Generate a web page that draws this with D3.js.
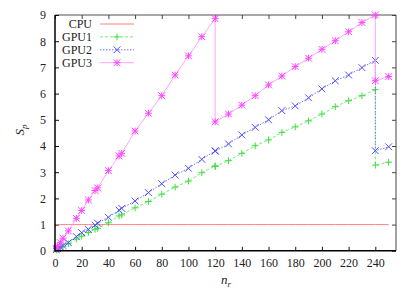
<!DOCTYPE html>
<html>
<head>
<meta charset="utf-8">
<script src="https://cdn.jsdelivr.net/npm/d3@7"></script>
<style>
html,body{margin:0;padding:0;background:#fff;}
svg{display:block;}
text{font-family:"Liberation Serif","Times New Roman",serif;fill:#222;}
</style>
</head>
<body>
<svg id="chart" width="415" height="291"></svg>
<script>
// ---- data ----
const nr = [1, 2, 4, 6, 10, 16, 20, 25, 30, 32, 40, 48, 50, 60, 70, 80, 90, 100, 110, 120, 120,
            130, 140, 150, 160, 170, 180, 190, 200, 210, 220, 230, 240, 240, 250];
const cpu  = nr.map(() => 1);
const gpu1 = [0.03, 0.06, 0.12, 0.17, 0.27, 0.45, 0.56, 0.70, 0.82, 0.86, 1.07, 1.33, 1.37, 1.64, 1.88, 2.16, 2.43, 2.66, 2.98, 3.24, 3.22,
              3.44, 3.72, 4.01, 4.23, 4.52, 4.73, 4.96, 5.22, 5.50, 5.73, 5.92, 6.15, 3.27, 3.38];
const gpu2 = [0.04, 0.08, 0.14, 0.20, 0.31, 0.54, 0.69, 0.82, 0.98, 1.05, 1.28, 1.55, 1.62, 1.90, 2.22, 2.56, 2.89, 3.15, 3.49, 3.82, 3.80,
              4.08, 4.42, 4.71, 5.00, 5.35, 5.53, 5.84, 6.18, 6.49, 6.71, 6.99, 7.27, 3.82, 3.97];
const gpu3 = [0.09, 0.16, 0.31, 0.48, 0.76, 1.24, 1.54, 1.94, 2.30, 2.40, 3.06, 3.62, 3.72, 4.57, 5.25, 5.92, 6.71, 7.44, 8.17, 8.86, 4.92,
              5.22, 5.56, 5.92, 6.33, 6.67, 7.03, 7.35, 7.69, 8.02, 8.36, 8.71, 9.00, 6.49, 6.65];
const xTicks = [0, 20, 40, 60, 80, 100, 120, 140, 160, 180, 200, 220, 240];
const yTicks = [0, 1, 2, 3, 4, 5, 6, 7, 8, 9];
const seriesNames = ["CPU", "GPU1", "GPU2", "GPU3"];

// ---- layout ----
const svg = d3.select("#chart");
const L = 55, R = 396, T = 15, B = 250.8;
const x = d3.scaleLinear().domain([0, 255.5]).range([L, R]);
const y = d3.scaleLinear().domain([0, 9]).range([B, T]);

const series = [
  {name: "CPU",  vals: cpu,  line: "#ff8080", dash: null,      lw: 1.0, marker: null, mc: null},
  {name: "GPU1", vals: gpu1, line: "#70ee70", dash: "3,2",     lw: 1.0, marker: "plus", mc: "#40dd40"},
  {name: "GPU2", vals: gpu2, line: "#7373ff", dash: "1.5,1.5", lw: 1.0, marker: "cross", mc: "#5050ff"},
  {name: "GPU3", vals: gpu3, line: "#ff99ff", dash: null,      lw: 0.9, marker: "star", mc: "#ff44ff"}
];

function markerPath(type, s) {
  const p = d3.path();
  if (type === "plus" || type === "star") {
    p.moveTo(-s, 0); p.lineTo(s, 0);
    p.moveTo(0, -s); p.lineTo(0, s);
  }
  if (type === "cross" || type === "star") {
    p.moveTo(-s, -s); p.lineTo(s, s);
    p.moveTo(-s, s); p.lineTo(s, -s);
  }
  return p.toString();
}

// frame: top & right grey, left & bottom black
svg.append("line").attr("x1", L).attr("x2", R).attr("y1", T).attr("y2", T)
  .attr("stroke", "#8a8a8a").attr("stroke-width", 1.6);
svg.append("line").attr("x1", R).attr("x2", R).attr("y1", T).attr("y2", B)
  .attr("stroke", "#8a8a8a").attr("stroke-width", 1.6);

// axes with inward ticks
const xAxis = d3.axisBottom(x).tickValues(xTicks).tickSize(-4).tickPadding(8).tickFormat(d3.format("d"));
const gx = svg.append("g").attr("transform", `translate(0,${B})`).call(xAxis);
const yAxis = d3.axisLeft(y).tickValues(yTicks).tickSize(-4).tickPadding(9).tickFormat(d3.format("d"));
const gy = svg.append("g").attr("transform", `translate(${L},0)`).call(yAxis);
[gx, gy].forEach(g => {
  g.attr("font-family", null);
  g.select(".domain").remove();
  g.selectAll(".tick line").attr("stroke", "#111").attr("stroke-width", 1);
  g.selectAll(".tick text").attr("font-size", 12).attr("fill", "#222")
    .style("font-family", "'Liberation Serif', serif");
});
// mirror ticks
const xTop = d3.axisTop(x).tickValues(xTicks).tickSize(-4).tickFormat("");
const gxt = svg.append("g").attr("transform", `translate(0,${T})`).call(xTop);
gxt.select(".domain").remove();
gxt.selectAll(".tick line").attr("stroke", "#444");
const yRight = d3.axisRight(y).tickValues(yTicks).tickSize(-4).tickFormat("");
const gyr = svg.append("g").attr("transform", `translate(${R},0)`).call(yRight);
gyr.select(".domain").remove();
gyr.selectAll(".tick line").attr("stroke", "#444");

// data lines and markers
const plot = svg.append("g");
series.forEach(s => {
  const pts = nr.map((d, i) => [d, s.vals[i]]);
  const line = d3.line().x(d => x(d[0])).y(d => y(d[1]));
  plot.append("path").attr("d", line(pts)).attr("fill", "none")
    .attr("stroke", s.line).attr("stroke-width", s.lw)
    .attr("stroke-dasharray", s.dash);
  if (s.marker) {
    plot.append("g").selectAll("path").data(pts).join("path")
      .attr("transform", d => `translate(${x(d[0])},${y(d[1])})`)
      .attr("d", markerPath(s.marker, 3.4))
      .attr("fill", "none").attr("stroke", s.mc).attr("stroke-width", 1);
  }
});

// left & bottom black axis lines on top
svg.append("line").attr("x1", L).attr("x2", L).attr("y1", T).attr("y2", B + 0.5)
  .attr("stroke", "#000").attr("stroke-width", 1.5);
svg.append("line").attr("x1", L).attr("x2", R).attr("y1", B).attr("y2", B)
  .attr("stroke", "#000").attr("stroke-width", 1.5);

// legend
const leg = svg.append("g");
series.forEach((s, i) => {
  const ly = 24 + i * 12.9;
  leg.append("text").attr("x", 92).attr("y", ly).attr("dy", "0.35em")
    .attr("text-anchor", "end").attr("font-size", 12).text(seriesNames[i]);
  leg.append("line").attr("x1", 100).attr("x2", 134).attr("y1", ly).attr("y2", ly)
    .attr("stroke", s.line).attr("stroke-width", s.lw).attr("stroke-dasharray", s.dash);
  if (s.marker) {
    leg.append("path").attr("transform", `translate(117,${ly})`)
      .attr("d", markerPath(s.marker, 3.4)).attr("fill", "none")
      .attr("stroke", s.mc).attr("stroke-width", 1);
  }
});

// axis titles
const xl = svg.append("text").attr("x", 226).attr("y", 284).attr("text-anchor", "middle").attr("font-size", 13);
xl.append("tspan").attr("font-style", "italic").text("n");
xl.append("tspan").attr("font-style", "italic").attr("font-size", 9).attr("dy", 2.5).text("r");

const yl = svg.append("text").attr("transform", "translate(24,130) rotate(-90)")
  .attr("text-anchor", "middle").attr("font-size", 13);
yl.append("tspan").attr("font-style", "italic").text("S");
yl.append("tspan").attr("font-style", "italic").attr("font-size", 9).attr("dy", 2.5).text("p");
</script>
</body>
</html>
